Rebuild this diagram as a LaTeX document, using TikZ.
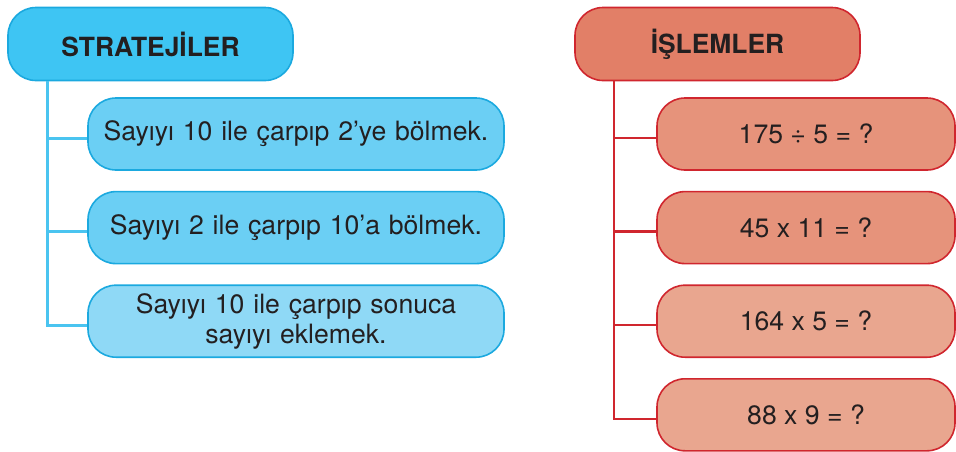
\documentclass[tikz,border=0pt]{standalone}
\usepackage{fontspec}
\setmainfont{TeX Gyre Heros}
\usetikzlibrary{positioning}
\definecolor{hdrcyan}{HTML}{3EC5F3}
\definecolor{boxcyan}{HTML}{6BCFF4}
\definecolor{boxcyanlt}{HTML}{8FD9F6}
\definecolor{cyanedge}{HTML}{1BA9DF}
\definecolor{cyanline}{HTML}{4AC4F0}
\definecolor{hdrsalmon}{HTML}{E27F67}
\definecolor{boxsalmon}{HTML}{E6937B}
\definecolor{boxsalmonlt}{HTML}{E9A68F}
\definecolor{rededge}{HTML}{D0262E}
\definecolor{inktext}{HTML}{231F20}
\tikzset{
    header/.style={rectangle, draw, rounded corners=14pt, minimum width=142.5pt, minimum height=36.5pt, text=inktext, font=\fontsize{13.2}{15}\selectfont\bfseries, line width=0.8pt},
    stratbox/.style={rectangle, draw=cyanedge, fill=boxcyan, rounded corners=14pt, minimum width=208pt, minimum height=36pt, text width=200pt, align=center, text=inktext, font=\fontsize{13.3}{15.2}\selectfont, line width=0.8pt},
    islembox/.style={rectangle, draw=rededge, fill=boxsalmon, rounded corners=14pt, minimum width=149pt, minimum height=36pt, text=inktext, font=\fontsize{13.3}{15.2}\selectfont, line width=0.8pt},
    bline/.style={draw=cyanline, line width=1.5pt},
    rline/.style={draw=rededge, line width=1.2pt}
}
\begin{document}
\begin{tikzpicture}[x=0.5pt, y=-0.5pt, node distance=10pt]
    \useasboundingbox (0,0) rectangle (956,451);
    \node [header, draw=cyanedge, fill=hdrcyan] (strat) at (150.5,44) {STRATEJİLER};
    \node [stratbox] (s1) at (296,134) {Sayıyı 10 ile çarpıp 2’ye bölmek.};
    \node [stratbox, below=of s1] (s2) {Sayıyı 2 ile çarpıp 10’a bölmek.};
    \node [stratbox, fill=boxcyanlt, below=of s2] (s3) {Sayıyı 10 ile çarpıp sonuca\\sayıyı eklemek.};

    \node [header, draw=rededge, fill=hdrsalmon] (islem) at (717.5,44) {İŞLEMLER};
    \node [islembox] (i1) at (806,134) {175 ÷ 5 = ?};
    \node [islembox, below=of i1] (i2) {45 x 11 = ?};
    \node [islembox, fill=boxsalmonlt, below=of i2] (i3) {164 x 5 = ?};
    \node [islembox, fill=boxsalmonlt, below=of i3] (i4) {88 x 9 = ?};

    % trunks
    \coordinate (stop) at ([xshift=20pt]strat.south west);
    \coordinate (itop) at ([xshift=20pt]islem.south west);
    \path [bline] (stop) |- ([yshift=-2pt]s3.west);
    \foreach \b in {s1,s2}
        \path [bline] ([yshift=-2pt]stop |- \b.west) -- ([yshift=-2pt]\b.west);
    \path [rline] (itop) |- ([yshift=-2pt]i4.west);
    \foreach \b in {i1,i2,i3}
        \path [rline] ([yshift=-2pt]itop |- \b.west) -- ([yshift=-2pt]\b.west);
\end{tikzpicture}
\end{document}
